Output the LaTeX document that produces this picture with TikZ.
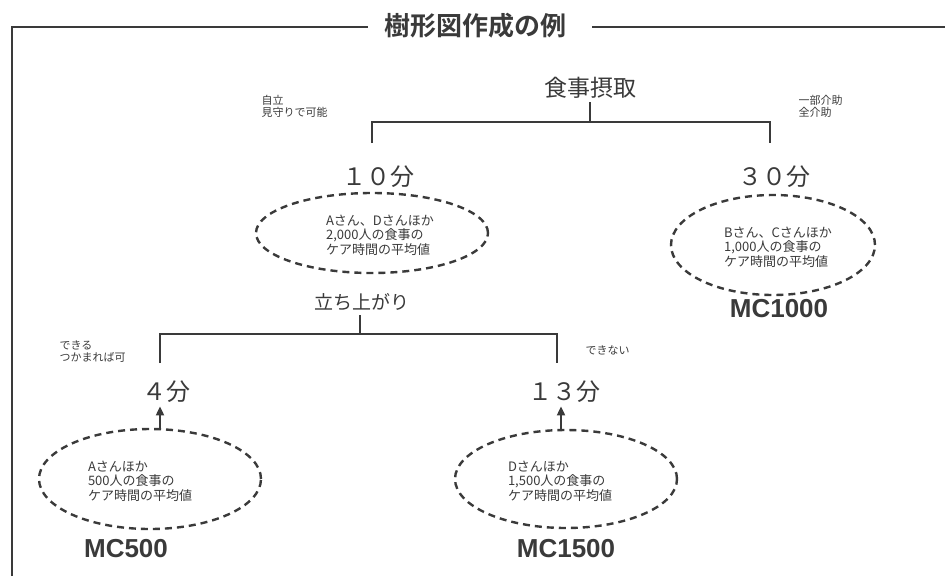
\documentclass[tikz,border=0pt]{standalone}
\usepackage{fontspec}
\newfontfamily\jp{Noto Sans CJK JP}
\newfontfamily\jpb{Noto Sans CJK JP Bold}
\newfontfamily\lat{Liberation Sans}
\usetikzlibrary{arrows.meta,shapes.geometric}
\definecolor{ink}{HTML}{3A3A3A}
\begin{document}
\begin{tikzpicture}[x=1pt,y=-1pt,
  treeline/.style={draw=ink,line width=2pt},
  oval/.style={draw=ink,line width=2.4pt,dash pattern=on 7pt off 5pt,ellipse},
  ovaltext/.style={font=\jp\fontsize{13}{14.5}\selectfont,text=ink,align=left},
  minutes/.style={font=\jp\fontsize{24}{26}\selectfont,text=ink},
  small/.style={font=\jp\fontsize{11}{12}\selectfont,text=ink,align=left},
  mc/.style={font=\lat\bfseries\fontsize{26}{28}\selectfont,text=ink},
  uparrow/.style={draw=ink,line width=2pt,-{Triangle[length=9pt,width=8pt]}}]
\useasboundingbox (0,0) rectangle (945,576);
% frame
\coordinate (tl) at (12,27);
\coordinate (bl) at (12,576);
\coordinate (tg1) at (368,27);
\coordinate (tg2) at (592,27);
\coordinate (tr) at (945,27);
\draw[draw=ink,line width=1.8pt] (bl) -- (tl) -- (tg1);
\draw[draw=ink,line width=1.8pt] (tg2) -- (tr);
\node[font=\jpb\fontsize{26}{28}\selectfont,text=ink] (title) at (475,26) {樹形図作成の例};
% level 1
\node[font=\jp\fontsize{23}{25}\selectfont,text=ink] (root) at (590,88) {食事摂取};
\coordinate (r1) at (590,102);
\coordinate (r2) at (590,122);
\coordinate (hl) at (372,122);
\coordinate (hr) at (770,122);
\coordinate (hl2) at (372,143);
\coordinate (hr2) at (770,143);
\draw[treeline] (r1) -- (r2);
\draw[treeline] (hl2) -- (hl) -- (hr) -- (hr2);
\node[small,anchor=west] (l1) at (258,106) {自立\\見守りで可能};
\node[small,anchor=west] (r1lab) at (795,106) {一部介助\\全介助};
\node[minutes] (m10) at (378,177) {１０分};
\node[minutes] (m30) at (774,177) {３０分};
\node[oval,minimum width=232pt,minimum height=80pt] (e1) at (372,233) {};
\node[ovaltext] (t1) at (380,235) {Aさん、Dさんほか\\2,000人の食事の\\ケア時間の平均値};
\node[oval,minimum width=204pt,minimum height=100pt] (e2) at (773,245) {};
\node[ovaltext] (t2) at (778,247) {Bさん、Cさんほか\\1,000人の食事の\\ケア時間の平均値};
\node[mc] (mc1000) at (779,309) {MC1000};
% level 2
\node[font=\jp\fontsize{19}{21}\selectfont,text=ink] (stand) at (362,302) {立ち上がり};
\coordinate (s1) at (360,315);
\coordinate (s2) at (360,334);
\coordinate (sl) at (160,334);
\coordinate (sr) at (557,334);
\coordinate (sl2) at (160,363);
\coordinate (sr2) at (557,363);
\draw[treeline] (s1) -- (s2);
\draw[treeline] (sl2) -- (sl) -- (sr) -- (sr2);
\node[small,anchor=west] (l2) at (56,352) {できる\\つかまれば可};
\node[small,anchor=west] (r2lab) at (582,350) {できない};
\node[minutes] (m4) at (166,392) {４分};
\node[minutes] (m13) at (564,392) {１３分};
\node[oval,minimum width=222pt,minimum height=100pt] (e3) at (150,479) {};
\node[ovaltext] (t3) at (140,481) {Aさんほか\\500人の食事の\\ケア時間の平均値};
\node[oval,minimum width=222pt,minimum height=98pt] (e4) at (566,479) {};
\node[ovaltext] (t4) at (560,481) {Dさんほか\\1,500人の食事の\\ケア時間の平均値};
\coordinate (a3) at (160,430);
\coordinate (a4) at (561,430);
\draw[uparrow] (a3) -- (a3 |- m4.south);
\draw[uparrow] (a4) -- (a4 |- m13.south);
\node[mc] (mc500) at (126,549) {MC500};
\node[mc] (mc1500) at (566,549) {MC1500};
\end{tikzpicture}
\end{document}
